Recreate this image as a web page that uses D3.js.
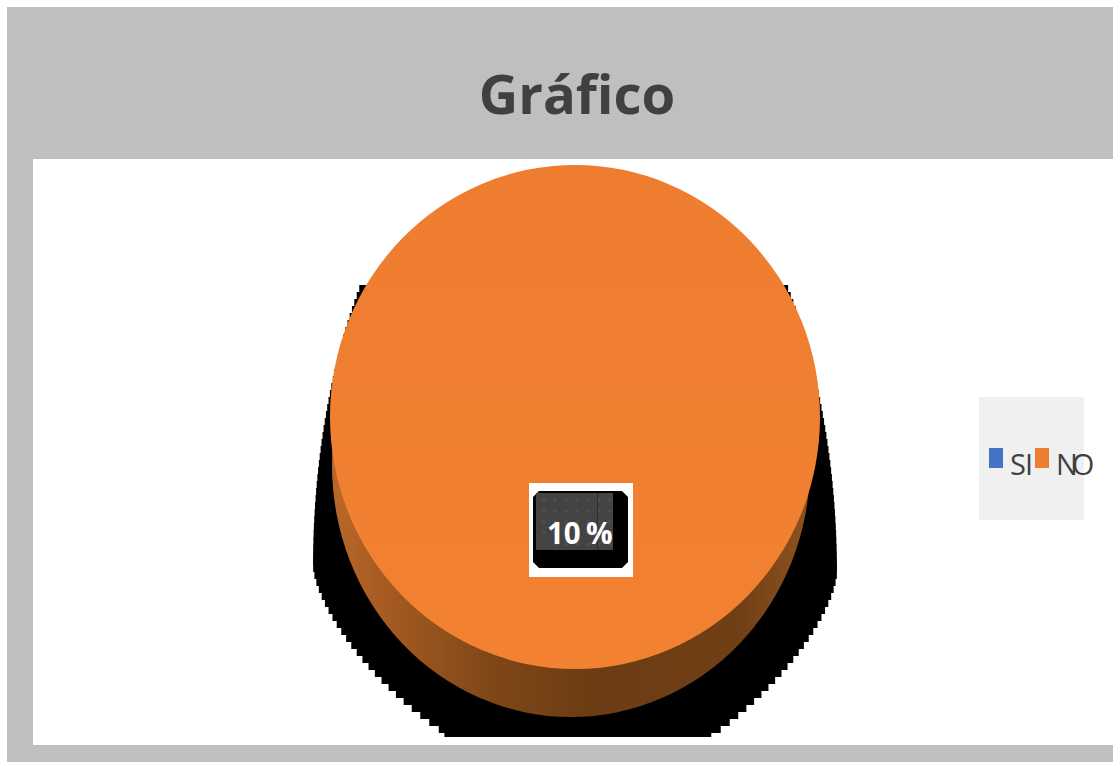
<!DOCTYPE html>
<html lang="es">
<head>
<meta charset="utf-8">
<title>Gráfico</title>
<script src="https://cdn.jsdelivr.net/npm/d3@7/dist/d3.min.js"></script>
<style>
  html, body { margin: 0; padding: 0; background: #fff; overflow: hidden; }
  svg { display: block; }
  text { font-family: "Open Sans", "Noto Sans", sans-serif; }
</style>
</head>
<body>
<svg id="chart" width="1113" height="762"></svg>
<script>
// Chart content
const chartTitle = "Gráfico";
const categories = ["SI", "NO"];
const values = [0, 10];
const colors = ["#4472C4", "#ED7D31"];
const labelSuffix = " %";

const svg = d3.select("#chart");
const defs = svg.append("defs");

// Frame and plot area
svg.append("rect").attr("x", 7).attr("y", 7).attr("width", 1106).attr("height", 755).attr("fill", "#bfbfbf");
svg.append("rect").attr("x", 33).attr("y", 159).attr("width", 1080).attr("height", 586).attr("fill", "#fff");

svg.append("text")
  .attr("x", 577).attr("y", 114)
  .attr("text-anchor", "middle")
  .attr("font-size", 54.5).attr("font-weight", 700)
  .attr("fill", "#404040")
  .text(chartTitle);

// Pie geometry: a tilted disc with a visible rim
const cx = 575, cy = 417, rx = 245, ry = 252, depth = 48;

// Hard-edged drop shadow behind the disc, stepped like a low-resolution raster
const shadowCy = 570, shadowW = 262, shadowTop = 285, shadowBottom = 737;
const shadowWidth = y => {
  if (y < shadowCy) return shadowW * Math.sqrt(1 - ((y - shadowCy) / 490) ** 2);
  return shadowW * Math.pow(1 - Math.pow((y - shadowCy) / 223, 1.5), 1 / 1.5);
};
const rows = d3.range(shadowTop, shadowBottom, 7).concat(shadowBottom);
const shadowPts = rows.map(y => [cx - shadowWidth(y), y])
  .concat(rows.slice().reverse().map(y => [cx + shadowWidth(y), y]));
svg.append("path")
  .attr("d", d3.line().curve(d3.curveStepAfter)(shadowPts) + "Z")
  .attr("fill", "#000");

// Rim shading, darkest toward the lower middle
const rim = defs.append("linearGradient").attr("id", "rim");
[[0, "#b9682a"], [0.1, "#a85c22"], [0.33, "#7f4718"], [0.55, "#6c3c14"], [0.85, "#703f16"], [1, "#8f521e"]]
  .forEach(([o, c]) => rim.append("stop").attr("offset", o).attr("stop-color", c));

const face = defs.append("linearGradient").attr("id", "face").attr("x1", 0).attr("y1", 0).attr("x2", 0).attr("y2", 1);
face.append("stop").attr("offset", 0).attr("stop-color", "#EE7D2F");
face.append("stop").attr("offset", 1).attr("stop-color", "#F28232");

const pie = d3.pie().sort(null).value(d => d);
const arcs = pie(values);
const arc = d3.arc().innerRadius(0).outerRadius(ry);

// Rim: the slices repeated lower down and slightly narrower
svg.append("g")
  .attr("transform", `translate(${cx - 4},${cy + depth}) scale(${(rx - 6) / ry},1)`)
  .selectAll("path").data(arcs).join("path")
  .attr("d", arc)
  .attr("fill", "url(#rim)");

// Top face
svg.append("g")
  .attr("transform", `translate(${cx},${cy}) scale(${rx / ry},1)`)
  .selectAll("path").data(arcs).join("path")
  .attr("d", arc)
  .attr("fill", (d, i) => i === 1 ? "url(#face)" : colors[i]);

// Data label: white plate, bevelled black key and dotted dark panel
const dots = defs.append("pattern").attr("id", "dots")
  .attr("patternUnits", "userSpaceOnUse").attr("width", 11).attr("height", 11);
dots.append("rect").attr("width", 11).attr("height", 11).attr("fill", "#434343");
dots.append("circle").attr("cx", 5).attr("cy", 5).attr("r", 1.8).attr("fill", "#4e4e4e");

svg.append("rect").attr("x", 529).attr("y", 483).attr("width", 104).attr("height", 94).attr("fill", "#fff");
svg.append("path")
  .attr("d", "M539,491H622L628,497V562L622,568H539L533,562V497Z")
  .attr("fill", "#000");
svg.append("rect").attr("x", 536).attr("y", 493).attr("width", 77).attr("height", 57).attr("fill", "url(#dots)");
svg.append("rect").attr("x", 597).attr("y", 493).attr("width", 1).attr("height", 57).attr("fill", "#2e2e2e");
svg.append("text")
  .attr("x", 547).attr("y", 544)
  .attr("font-size", 29.5).attr("font-weight", 700)
  .attr("word-spacing", -2.5)
  .attr("fill", "#fff")
  .text(values[1] + labelSuffix);

// Legend
svg.append("rect").attr("x", 979).attr("y", 397).attr("width", 105).attr("height", 123).attr("fill", "#f0f0f0");
const legendX = d3.scalePoint().domain(categories).range([989, 1035]);
const legend = svg.append("g").selectAll("g").data(categories).join("g")
  .attr("transform", d => `translate(${legendX(d)},0)`);
legend.append("rect")
  .attr("y", 448).attr("width", 14).attr("height", 20)
  .attr("fill", (d, i) => colors[i]);
legend.append("text")
  .attr("x", 21).attr("y", 475)
  .attr("font-size", 29)
  .attr("letter-spacing", (d, i) => i ? -6 : -1)
  .attr("fill", "#404040")
  .text(d => d);
</script>
</body>
</html>
